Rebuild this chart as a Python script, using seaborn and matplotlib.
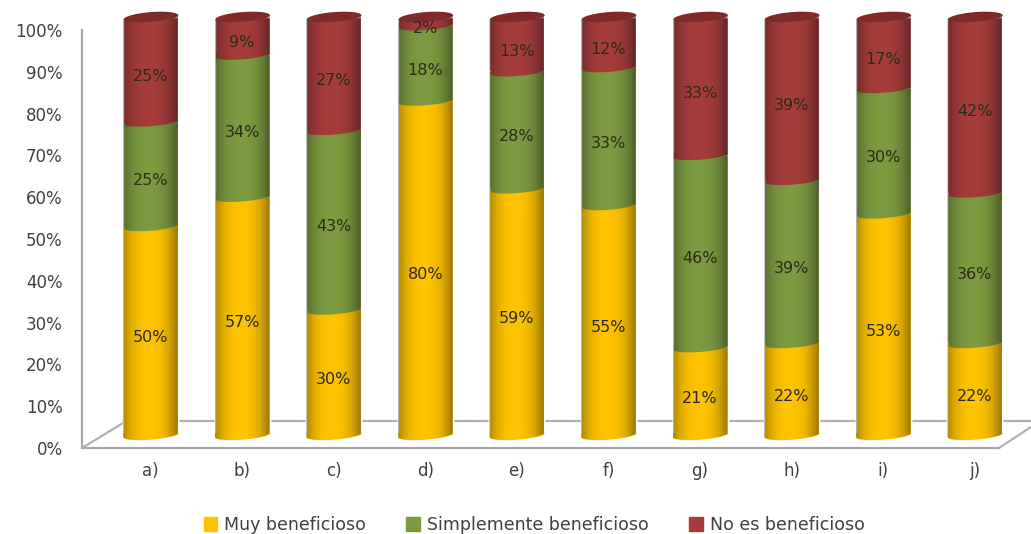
import numpy as np
import matplotlib
matplotlib.use('Agg')
import matplotlib.pyplot as plt
import matplotlib.transforms as mtrans
from matplotlib.lines import Line2D
from matplotlib.patches import Patch, Polygon
import seaborn as sns

items = ['a)', 'b)', 'c)', 'd)', 'e)', 'f)', 'g)', 'h)', 'i)', 'j)']
muy = [50, 57, 30, 80, 59, 55, 21, 22, 53, 22]
simple = [25, 34, 43, 18, 28, 33, 46, 39, 30, 36]
no_es = [25, 9, 27, 2, 13, 12, 33, 39, 17, 42]
names = ['Muy beneficioso', 'Simplemente beneficioso', 'No es beneficioso']
colors = ['#FDC300', '#7C9A40', '#A53C3C']
cap_color = '#7C2A2A'
label_color = '#404040'

W, H = 1031, 534
sns.set_theme(style='white')
plt.rcParams['font.family'] = ['DejaVu Sans']
fig = plt.figure(figsize=(W / 100, H / 100), dpi=100)
ax = fig.add_axes([82 / W, 1 - 448 / H, (999 - 82) / W, (448 - 30) / H])
ax.patch.set_visible(False)

# the bars float above the floor of the fake 3d box
bar_tf = ax.transData + mtrans.Affine2D().translate(0, 13)

cum1 = np.array(muy)
cum2 = cum1 + np.array(simple)
cum3 = cum2 + np.array(no_es)
bar_w = 0.6
bulge = 1.0
skew = 0.5

# stacked look: tallest first, shorter ones painted over it
for vals, col in zip([cum3, cum2, cum1], colors[::-1]):
    sns.barplot(x=items, y=vals, color=col, saturation=1, width=bar_w, ax=ax, zorder=2)
for p in ax.patches:
    p.set_transform(bar_tf)
    p.set_clip_on(False)

u = np.linspace(-1, 1, 60)


def arc(v):
    return v - bulge * np.sqrt(1 - u ** 2) + skew * u


# gradient that makes the bars look round
prof = np.abs(np.linspace(-1, 1, 120) + 0.05)
shade = np.zeros((1, 120, 4))
shade[0, :, 3] = np.clip(prof, 0, 1) ** 2.5 * 0.36

for i in range(len(items)):
    xs = i + u * bar_w / 2
    xs_in = i + u * bar_w / 2 * 0.97  # keeps the bands off the snapped bar edges
    fill = dict(lw=0, zorder=3, transform=bar_tf, clip_on=False)
    # boundaries between the segments
    ax.fill_between(xs, arc(0), skew + 0.1, color=colors[0], **fill)
    for v, low, up in [(cum1[i], colors[0], colors[1]), (cum2[i], colors[1], colors[2])]:
        ax.fill_between(xs_in, v - bulge - skew - 0.1, arc(v), color=low, **fill)
        ax.fill_between(xs_in, arc(v), v + skew + 0.1, color=up, **fill)

    outline = np.vstack([
        np.column_stack([xs, arc(0)]),
        np.column_stack([xs[::-1], arc(cum3[i])[::-1]]),
    ])
    im = ax.imshow(shade, extent=(i - bar_w / 2, i + bar_w / 2, -4, 104), aspect='auto', zorder=4, interpolation='bilinear')
    im.set_transform(bar_tf)
    im.set_clip_box(fig.bbox)
    im.set_clip_path(Polygon(outline, closed=True, transform=bar_tf))

    # top of the cylinder
    top = cum3[i]
    ax.fill_between(xs, arc(top), top + 1.3 * np.sqrt(1 - u ** 2) + skew * u, color=cap_color,
                    lw=0, zorder=5, transform=bar_tf, clip_on=False)

    # value labels sit a bit under the middle of each segment
    bottoms = [0, cum1[i], cum2[i]]
    for b, h in zip(bottoms, [muy[i], simple[i], no_es[i]]):
        ax.text(i, b + h / 2 - 1.7, f'{h}%', ha='center', va='center', fontsize=11.5, color='#2a2a1a',
                zorder=6, transform=bar_tf, clip_on=False)

ax.set_xlim((82 - 150.5) / 91.6, (999 - 150.5) / 91.6)
ax.set_ylim(0, 100)
ax.set_yticks(range(0, 101, 10))
ax.set_yticklabels([f'{t}%' for t in range(0, 101, 10)])
ax.set_xlabel('')
ax.set_ylabel('')
ax.tick_params(axis='y', length=0, pad=14, labelsize=12, labelcolor=label_color)
ax.tick_params(axis='x', length=0, pad=10, labelsize=12, labelcolor=label_color)
sns.despine(ax=ax)
for s in ['left', 'bottom']:
    ax.spines[s].set_color('#A8A8A8')
    ax.spines[s].set_linewidth(1.6)

# floor of the box, in pixels, behind the bars
floor = [((82, 448), (123, 423)), ((123, 421), (1031, 421)), ((999, 448), (1031, 427))]
for (x0, y0), (x1, y1) in floor:
    fig.add_artist(Line2D([x0 / W, x1 / W], [1 - y0 / H, 1 - y1 / H], color='#B0B0B0', lw=1.6, zorder=-1))

handles = [Patch(color=c, label=n) for c, n in zip(colors, names)]
fig.legend(handles=handles, loc='center', bbox_to_anchor=(534 / W, 1 - 525 / H), ncol=3, frameon=False,
           fontsize=12.5, labelcolor=label_color, handlelength=0.8, handleheight=0.8, handletextpad=0.4, columnspacing=2.3)

fig.savefig('out.png', dpi=100, facecolor='white')
